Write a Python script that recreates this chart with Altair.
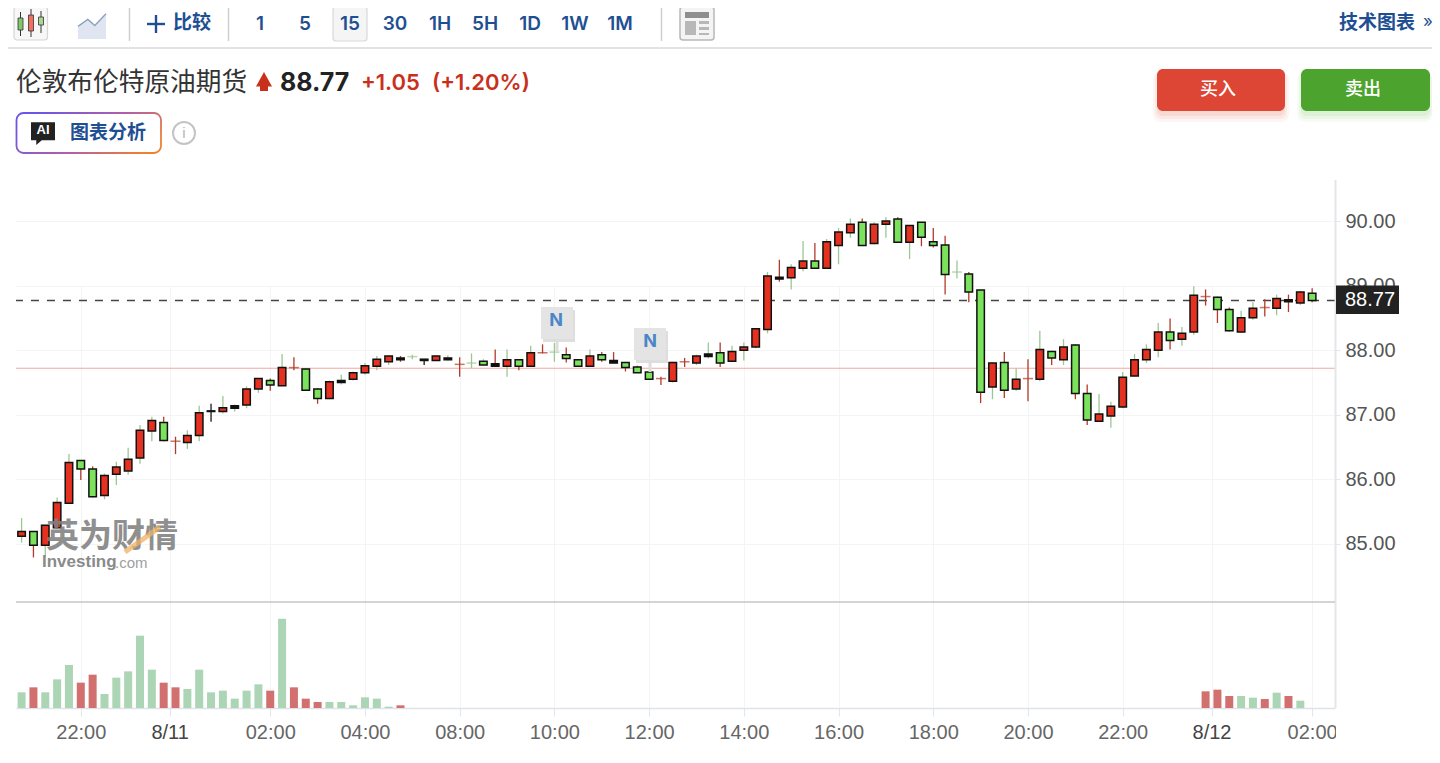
import json
import altair as alt
import pandas as pd

HIGH = [85.40,85.19,85.29,85.72,86.39,86.29,86.20,86.09,86.27,86.49,
        86.84,86.97,86.97,86.66,86.76,87.14,87.17,87.29,87.16,87.44,
        87.56,87.56,87.94,87.89,87.72,87.41,87.53,87.62,87.67,87.80,
        87.91,87.91,87.91,87.93,87.86,87.92,87.92,87.89,87.95,87.86,
        88.01,88.01,87.86,88.07,88.09,88.11,88.04,87.86,88.01,87.97,
        87.97,87.81,87.76,87.67,87.59,87.82,87.88,87.93,88.12,88.12,
        88.07,88.12,88.34,89.21,89.40,89.33,89.69,89.66,89.72,89.89,
        90.04,90.04,89.98,90.06,90.06,89.93,89.98,89.89,89.77,89.39,
        89.21,88.93,87.81,87.97,87.72,87.86,88.30,87.99,88.17,88.09,
        87.47,87.32,87.20,87.66,87.94,88.09,88.42,88.49,88.36,88.99,
        88.94,88.83,88.66,88.61,88.74,88.79,88.86,88.86,88.92,88.96]
BODY_TOP = [85.19,85.19,85.29,85.64,86.26,86.29,86.16,86.06,86.19,86.31,
        86.76,86.91,86.88,86.59,86.68,87.03,87.06,87.11,87.14,87.40,
        87.56,87.53,87.73,87.73,87.71,87.40,87.51,87.53,87.65,87.76,
        87.86,87.91,87.88,87.90,87.86,87.91,87.88,87.78,87.80,87.83,
        87.79,87.85,87.85,87.96,87.96,87.97,87.93,87.85,87.91,87.93,
        87.84,87.81,87.74,87.66,87.56,87.81,87.82,87.91,87.94,87.96,
        87.98,88.05,88.33,89.15,89.13,89.28,89.38,89.38,89.68,89.83,
        89.95,89.98,89.95,90.00,90.03,89.93,89.98,89.68,89.63,89.21,
        89.18,88.93,87.80,87.81,87.55,87.56,88.01,87.98,88.05,88.08,
        87.33,87.01,87.13,87.58,87.85,88.01,88.28,88.28,88.26,88.85,
        88.83,88.82,88.63,88.50,88.65,88.66,88.80,88.78,88.90,88.88]
BODY_BOTTOM = [85.12,84.98,84.98,85.25,85.63,86.16,85.73,85.75,86.08,86.13,
        86.33,86.75,86.60,86.58,86.57,86.68,87.05,87.05,87.10,87.15,
        87.40,87.46,87.45,87.72,87.38,87.25,87.25,87.50,87.55,87.65,
        87.75,87.82,87.85,87.89,87.84,87.84,87.85,87.77,87.79,87.77,
        87.75,87.75,87.75,87.75,87.95,87.96,87.87,87.75,87.75,87.85,
        87.80,87.73,87.65,87.55,87.55,87.52,87.81,87.80,87.90,87.80,
        87.83,88.00,88.05,88.32,89.10,89.12,89.27,89.27,89.27,89.62,
        89.82,89.62,89.65,89.95,89.67,89.67,89.75,89.62,89.17,89.20,
        88.90,87.35,87.43,87.38,87.40,87.55,87.55,87.88,87.85,87.33,
        86.92,86.90,86.98,87.12,87.60,87.85,88.00,88.15,88.17,88.28,
        88.82,88.63,88.30,88.28,88.50,88.65,88.65,88.75,88.73,88.77]
LOW = [85.02,84.79,84.80,85.24,85.63,85.99,85.72,85.69,85.91,86.07,
        86.24,86.59,86.59,86.39,86.47,86.59,86.89,87.02,87.05,87.10,
        87.34,87.37,87.45,87.69,87.37,87.17,87.24,87.47,87.53,87.62,
        87.69,87.77,87.82,87.86,87.77,87.84,87.84,87.59,87.72,87.76,
        87.75,87.59,87.69,87.74,87.95,87.82,87.81,87.75,87.74,87.82,
        87.80,87.67,87.65,87.55,87.46,87.50,87.74,87.77,87.87,87.74,
        87.82,87.84,88.03,88.26,89.06,88.94,89.22,89.27,89.27,89.33,
        89.74,89.62,89.64,89.74,89.67,89.41,89.61,89.59,88.86,89.11,
        88.74,87.18,87.24,87.26,87.37,87.21,87.52,87.77,87.77,87.24,
        86.84,86.89,86.80,87.10,87.59,87.80,87.89,88.01,88.07,88.24,
        88.69,88.42,88.29,88.27,88.47,88.52,88.54,88.59,88.70,88.74]
BODY_KIND = list("rgrrrggrrr" "rrgdrrkrkr" "rgrdggrkrr" "rrkdkrkddg" "krgrddggrg"
                 "kgggdrdrkg" "rrrrkrrgrr" "rgrrgrgggd" "ggrgrdrgrg" "grrrrrrgrr" "dggrrdrkrg")
WICK_KIND = list("grgggrrggg" "ggrrggkggg" "grgrgrgggg" "ggrgkggrgg" "rgrgrgrggr"
                 "rrrgrgrggr" "ggggrggrgg" "grggrgrrrg" "rrgrgrgrgr" "rggggggrgg" "rrrggrgrgr")
VOL_INDEX = list(range(33)) + list(range(100, 109))
VOLUME = [47,62,47,86,129,76,100,42,91,110,217,115,76,62,57,115,47,52,28,52,71,52,268,62,28,18,18,18,8,32,28,4,8,
          50,55,36,36,31,27,46,36,22]
VOL_KIND = list("grgggrrggggg" "rrgggggggrgrrrggggggr") + list("rrrggrgrg")
LAST_PRICE = 88.77
PREV_CLOSE = 87.72
PRICE_TICKS = [85, 86, 87, 88, 89, 90]
TIME_TICKS = [5, 12.5, 21, 29, 37, 45, 53, 61, 69, 77, 85, 93, 100.5, 109]
TIME_LABELS = ["22:00","8/11","02:00","04:00","08:00","10:00","12:00","14:00","16:00","18:00","20:00","22:00","8/12","02:00"]

W, H = 1319, 528
X0, Y0 = 16, 180
FILL = {"r": "#e5311f", "g": "#7be25c", "k": "#111111"}
WICK = {"r": "#b23a28", "g": "#9cc793", "k": "#1a1a1a"}
VOLC = {"r": "#d27070", "g": "#acd5b5"}
BLUE = "#1f4f93"
AXFONT = "Liberation Sans"
UIFONT = "Inter, Noto Sans CJK SC"
CJK = "Noto Sans CJK SC"

df = pd.DataFrame({"i": range(len(HIGH)), "high": HIGH, "top": BODY_TOP, "bottom": BODY_BOTTOM, "low": LOW,
                   "kind": BODY_KIND, "wick": WICK_KIND})
df["wickc"] = df.wick.map(WICK)
df["fillc"] = df.kind.map(FILL)
bodies = df[df.kind != "d"]
dojis = df[df.kind == "d"]
vol = pd.DataFrame({"i": VOL_INDEX, "v": VOLUME, "kind": VOL_KIND})
vol["c"] = vol.kind.map(VOLC)

xscale = alt.Scale(domain=[-0.473, 110.93], nice=False, zero=False, padding=0)
pscale = alt.Scale(domain=[84.10, 90.635], range=[422, 0], nice=False, zero=False)
vscale = alt.Scale(domain=[0, 318], range=[528, 422], nice=False, zero=True)
label_expr = json.dumps(TIME_LABELS) + "[indexof(" + json.dumps(TIME_TICKS) + ",datum.value)]"
xaxis = alt.Axis(values=TIME_TICKS, labelExpr=label_expr, title=None, grid=True, gridColor="#f3f4f6", gridWidth=1,
                 domainColor="#dfe2e8", domainWidth=1.5, tickColor="#e4e6eb", tickSize=8, tickWidth=1,
                 labelFont=AXFONT, labelFontSize=20, labelPadding=6, labelFlush=False, labelOverlap=False,
                 labelColor={"condition": {"test": "datum.value==12.5||datum.value==100.5", "value": "#444444"},
                             "value": "#666666"})
yaxis = alt.Axis(values=PRICE_TICKS, format=".2f", orient="right", title=None, grid=True, gridColor="#f3f4f6",
                 gridWidth=1, domain=False, tickColor="#e4e6eb", tickSize=5, labelFont=AXFONT, labelFontSize=20,
                 labelColor="#555555", labelPadding=5, labelOverlap=False, labelBound=False, labelFlush=False)
X = alt.X("i:Q", scale=xscale, axis=xaxis)
Yp = lambda f, a=None: alt.Y(f, scale=pscale, axis=a)

price_axis_layer = alt.Chart(pd.DataFrame({"p": [PREV_CLOSE]})).mark_rule(color="#f3a9a0", strokeWidth=1.2).encode(
    y=alt.Y("p:Q", scale=pscale, axis=yaxis))
last_line = alt.Chart(pd.DataFrame({"p": [LAST_PRICE]})).mark_rule(color="#444444", strokeWidth=1.5, strokeDash=[8, 8]).encode(
    y=Yp("p:Q"))
wicks = alt.Chart(df).mark_rule(strokeWidth=1.3).encode(
    x=X, y=Yp("high:Q"), y2="low:Q", color=alt.Color("wickc:N", scale=None))
body = alt.Chart(bodies).mark_bar(size=7.5, stroke="#111111", strokeWidth=1.5).encode(
    x=X, y=Yp("top:Q"), y2="bottom:Q", fill=alt.Fill("fillc:N", scale=None))
doji = alt.Chart(dojis).mark_tick(thickness=1.5, size=10, orient="horizontal").encode(
    x=X, y=Yp("top:Q"), color=alt.Color("wickc:N", scale=None))

volume = alt.Chart(vol).mark_bar(size=8).encode(
    x=X, y=alt.Y("v:Q", scale=vscale, axis=None), fill=alt.Fill("c:N", scale=None))

ONE = alt.Data(values=[{}])


def R(x0, y0, x1, y1, fill=None, stroke=None, sw=1, r=0, op=1):
    kw = dict(opacity=op, cornerRadius=r)
    kw["fill"] = fill if fill else "transparent"
    if stroke:
        kw.update(stroke=stroke, strokeWidth=sw)
    return alt.Chart(ONE).mark_rect(**kw).encode(
        x=alt.value(x0 - X0), x2=alt.value(x1 - X0), y=alt.value(y0 - Y0), y2=alt.value(y1 - Y0))


def L(x0, y0, x1, y1, color, sw=1, op=1):
    return alt.Chart(ONE).mark_rule(color=color, strokeWidth=sw, opacity=op).encode(
        x=alt.value(x0 - X0), x2=alt.value(x1 - X0), y=alt.value(y0 - Y0), y2=alt.value(y1 - Y0))


def T(x, y, s, size, color, weight=400, font=UIFONT, align="left", op=1):
    return alt.Chart(ONE).mark_text(align=align, baseline="middle", fontSize=size, color=color, fontWeight=weight,
                                    font=font, opacity=op).encode(
        x=alt.value(x - X0), y=alt.value(y - Y0), text=alt.value(s))


def P(x, y, path, size, fill=None, stroke=None, sw=1):
    kw = dict(shape=path, size=size, opacity=1)
    if fill:
        kw.update(filled=True, fill=fill, strokeWidth=0)
    else:
        kw.update(filled=False, stroke=stroke, strokeWidth=sw)
    return alt.Chart(ONE).mark_point(**kw).encode(x=alt.value(x - X0), y=alt.value(y - Y0))


ui = [
    # chart frame
    L(1335.5, 180, 1335.5, 708, "#e4e6ea", 2),
    L(16, 602, 1335, 602, "#c6c6c8", 1.5),
    # watermark
    T(46, 537, "英为财情", 33, "#808080", 700, CJK, op=0.88),
    L(125, 552, 160, 527, "#f0b060", 5, 0.75),
    T(42, 562, "Investing", 17, "#8a8a8a", 700, "Liberation Sans"),
    T(115, 563, ".com", 15, "#a0a0a0", 400, "Liberation Sans"),
    # news flags
    R(543, 310, 575, 342, "#c8c8c8", op=0.6), L(557, 339, 557, 352, "#dddddd", 3),
    R(541, 307, 573, 339, "#e4e4e4"), T(556, 321, "N", 18, "#4a86c8", 700, align="center"),
    R(636, 331, 668, 363, "#c8c8c8", op=0.6), L(650, 360, 650, 372, "#dddddd", 3),
    R(634, 328, 666, 360, "#e4e4e4"), T(650, 342, "N", 18, "#4a86c8", 700, align="center"),
    # last price tag
    R(1336, 285.5, 1399, 314, "#222222"), T(1345, 300, "88.77", 20, "#ffffff", 400, AXFONT),
    R(1336, 716, 1346, 748, "#ffffff"),
    # toolbar
    L(8, 48, 1432, 48, "#d9d9dc", 1.5),
    R(14, 7, 47.5, 40, "#f7f7f7", "#d6d6d6", 1.2, 3),
    L(20.5, 12, 20.5, 36, "#333333", 1), R(18, 18, 23, 30, "#7fc76a", "#333333", 0.8),
    L(31, 9, 31, 37, "#333333", 1), R(28.5, 15, 33.5, 31, "#ee7060", "#333333", 0.8),
    L(41, 11, 41, 33, "#333333", 1), R(38.5, 17, 43.5, 25, "#a8d890", "#333333", 0.8),
    P(92, 25, "M-0.5,0.5 L-0.5,0.05 L-0.15,-0.2 L0.1,0.02 L0.5,-0.4 L0.5,0.5 Z", 3136, fill="#dfe6f2"),
    P(92, 25, "M-0.5,0.05 L-0.15,-0.2 L0.1,0.02 L0.5,-0.4", 3136, stroke="#8aa0be", sw=1.3),
    L(129.5, 6, 129.5, 41, "#cfcfd2", 1.5), L(228.5, 6, 228.5, 41, "#cfcfd2", 1.5), L(661.5, 6, 661.5, 41, "#cfcfd2", 1.5),
    L(147, 24, 165, 24, BLUE, 2.4), L(156, 15, 156, 33, BLUE, 2.4),
    T(173, 23, "比较", 19, BLUE, 700, CJK),
    R(333, 7, 367, 41, "#f5f5f6", "#d9d9dc", 1.2, 3),
    T(260, 23.5, "1", 19, BLUE, 600, align="center"), T(305, 23.5, "5", 19, BLUE, 600, align="center"),
    T(350, 23.5, "15", 19, BLUE, 600, align="center"), T(395, 23.5, "30", 19, BLUE, 600, align="center"),
    T(440, 23.5, "1H", 19, BLUE, 600, align="center"), T(485, 23.5, "5H", 19, BLUE, 600, align="center"),
    T(530, 23.5, "1D", 19, BLUE, 600, align="center"), T(575, 23.5, "1W", 19, BLUE, 600, align="center"),
    T(620, 23.5, "1M", 19, BLUE, 600, align="center"),
    R(680, 7, 714, 40, "#f4f4f4", "#b8b8b8", 1.5, 3), R(685, 12, 709, 18, "#8e8e8e"),
    R(685, 21, 696, 35, "#b8b8b8"), R(699, 21, 709, 24, "#b8b8b8"), R(699, 27, 709, 30, "#b8b8b8"), R(699, 33, 709, 35, "#b8b8b8"),
    T(1339, 23, "技术图表", 19, BLUE, 700, CJK),
    T(1423, 22, "»", 17, BLUE, 400),
    # quote line
    T(16, 83, "伦敦布伦特原油期货", 25.7, "#333333", 400, CJK),
    R(260, 82, 268, 91, "#c9301c"),
    P(264, 80, "M-0.5,0.4 L0,-0.5 L0.5,0.4 Z", 1024, fill="#c9301c"),
    T(280, 83, "88.77", 25, "#222222", 700),
    T(361, 83, "+1.05", 22, "#c9301c", 600),
    T(432, 83, "(+1.20%)", 22, "#c9301c", 600),
    # AI button
    alt.Chart(ONE).mark_rect(
        fill="#ffffff", strokeWidth=1.8, cornerRadius=7,
        stroke=alt.LinearGradient(gradient="linear", x1=0, x2=1, y1=0.3, y2=0.7,
                                  stops=[alt.GradientStop(color="#6a55e8", offset=0),
                                         alt.GradientStop(color="#b060a8", offset=0.55),
                                         alt.GradientStop(color="#f08030", offset=1)])).encode(
        x=alt.value(16.5 - X0), x2=alt.value(161 - X0), y=alt.value(113 - Y0), y2=alt.value(153 - Y0)),
    P(43, 133, "M-0.5,-0.45 L0.5,-0.45 L0.5,0.3 L-0.05,0.3 L-0.28,0.5 L-0.28,0.3 L-0.5,0.3 Z", 2304, fill="#222222"),
    T(43, 130, "AI", 13, "#ffffff", 700, "Liberation Sans", align="center"),
    T(70, 133, "图表分析", 19, BLUE, 700, CJK),
    alt.Chart(ONE).mark_point(shape="circle", size=484, filled=False, stroke="#c4c4c4", strokeWidth=2, opacity=1).encode(
        x=alt.value(184 - X0), y=alt.value(133 - Y0)),
    T(184, 133, "i", 15, "#b4b4b4", 400, "Liberation Sans", align="center"),
    # trade buttons (soft shadows built up from faint rectangles)
    R(1153, 72, 1289, 122, "#f0a090", r=8, op=0.10), R(1155, 72, 1287, 119, "#f0a090", r=7, op=0.14), R(1157, 72, 1285, 116, "#f0a090", r=6, op=0.2),
    R(1297, 72, 1432, 122, "#a8dc98", r=8, op=0.10), R(1299, 72, 1432, 119, "#a8dc98", r=7, op=0.14), R(1301, 72, 1430, 116, "#a8dc98", r=6, op=0.2),
    R(1157, 69, 1285, 111, "#dd4534", r=6), T(1218, 90, "买入", 18, "#ffffff", 500, CJK, align="center"),
    R(1301, 69, 1430, 111, "#4ca42e", r=6), T(1363, 90, "卖出", 18, "#ffffff", 500, CJK, align="center"),
]

chart = alt.layer(price_axis_layer, last_line, wicks, body, doji, volume, *ui).resolve_scale(y="independent").properties(
    width=W, height=H,
    padding={"left": 8, "top": 172, "right": 97, "bottom": 40},
    autosize=alt.AutoSizeParams(type="none"),
    background="#ffffff",
).configure_view(stroke=None)

chart.save("out.html", embed_options={"renderer": "svg", "actions": False})
